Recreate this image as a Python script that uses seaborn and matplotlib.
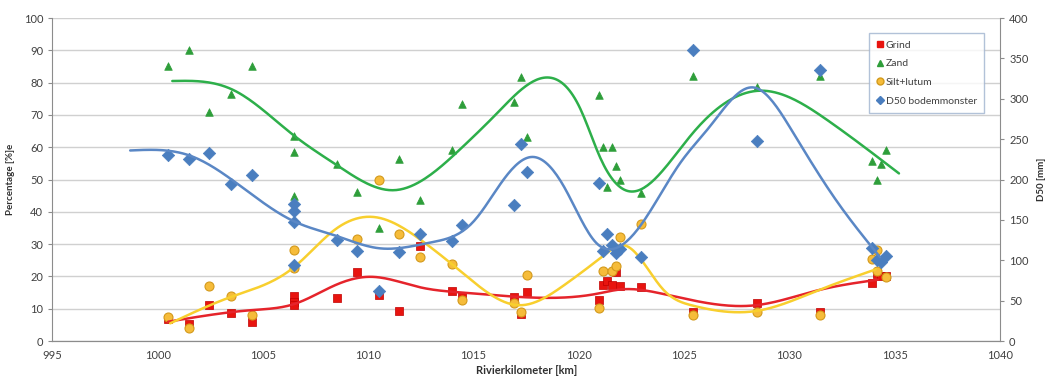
import numpy as np
import seaborn as sns
import matplotlib.pyplot as plt
from matplotlib.lines import Line2D

# measured samples (percentages on left axis, D50 on right axis)
grind_km = [1000.5, 1001.5, 1002.45, 1003.5, 1004.5, 1006.5, 1006.5, 1006.5, 1008.5, 1009.46, 1010.5,
            1011.47, 1012.47, 1013.97, 1014.47, 1016.94, 1017.24, 1017.56, 1020.95, 1021.13, 1021.32,
            1021.56, 1021.75, 1021.97, 1022.94, 1025.44, 1028.45, 1031.45, 1033.92, 1034.14, 1034.35, 1034.57]
grind = [6.7, 5.3, 11.1, 8.8, 6.0, 13.9, 12.2, 11.1, 13.2, 21.5, 14.2, 9.4, 29.4, 15.6, 14.0, 13.7, 8.4,
         15.3, 12.7, 17.3, 18.7, 17.3, 21.5, 17.0, 16.8, 9.1, 11.7, 9.1, 17.9, 20.7, 20.0, 20.0]

zand_km = [1000.5, 1001.5, 1002.45, 1003.5, 1004.5, 1006.5, 1006.5, 1006.5, 1008.5, 1009.46, 1010.5,
           1011.47, 1012.47, 1013.97, 1014.47, 1016.94, 1017.24, 1017.56, 1020.95, 1021.13, 1021.32,
           1021.56, 1021.75, 1021.97, 1022.94, 1025.44, 1028.45, 1031.45, 1033.92, 1034.14, 1034.35, 1034.57]
zand = [85, 90, 71, 76.5, 85, 63.5, 58.6, 45, 54.7, 46.2, 34.9, 56.3, 43.6, 59.3, 73.4, 74.1, 81.8, 63.3,
        76.2, 60.1, 47.8, 60.1, 54.3, 49.8, 45.7, 82, 78.5, 82, 55.8, 49.8, 54.8, 59.3]

silt_km = [1000.5, 1001.5, 1002.45, 1003.5, 1004.5, 1006.5, 1006.5, 1009.46, 1010.5, 1011.47, 1012.47,
           1013.97, 1014.47, 1016.94, 1017.24, 1017.56, 1020.95, 1021.13, 1021.56, 1021.75, 1021.97,
           1022.94, 1025.44, 1028.45, 1031.45, 1033.92, 1034.14, 1034.14, 1034.57]
silt = [7.5, 4.2, 17, 13.9, 8, 28.2, 22.5, 31.6, 49.8, 33.3, 26.1, 24, 12.7, 11.9, 9.1, 20.4, 10.1, 21.8,
        21.8, 23.3, 32.1, 36.2, 8.2, 9.1, 8, 25.5, 28.2, 21.8, 19.9]

d50_km = [1000.5, 1001.5, 1002.45, 1003.5, 1004.5, 1006.5, 1006.5, 1006.5, 1006.5, 1008.5, 1009.46,
          1010.5, 1011.47, 1012.47, 1013.97, 1014.47, 1016.94, 1017.24, 1017.56, 1020.95, 1021.13,
          1021.32, 1021.56, 1021.75, 1021.97, 1022.94, 1025.44, 1028.45, 1031.45, 1033.92, 1034.14,
          1034.35, 1034.57]
d50 = [231, 225, 233, 194, 206, 170, 161, 148, 94, 125, 112, 62, 110, 133, 124, 144, 168, 244, 209, 196,
       112, 133, 119, 109, 114, 104, 361, 248, 336, 115, 100, 98, 105]

# trend lines (knots)
grind_fit_km = [1000.5, 1004.5, 1006.5, 1008.5, 1010.1, 1012.5, 1014.5, 1017.7, 1020.9, 1022.0, 1024.0,
                1028.4, 1031.4, 1034.2]
grind_fit = [6.0, 9.6, 11.5, 17.5, 19.9, 16.6, 15.0, 13.5, 14.7, 16.0, 14.6, 11.1, 15.8, 19.0]

zand_fit_km = [1000.7, 1003.6, 1006.5, 1008.5, 1011.2, 1014.5, 1016.1, 1018.8, 1020.1, 1021.0, 1022.3,
               1024.0, 1025.4, 1028.6, 1031.8, 1035.2]
zand_fit = [80.5, 77.7, 63.5, 54.5, 46.7, 60.2, 70.4, 81.3, 71.5, 57, 46.5, 52.9, 64.3, 77.5, 68.4, 51.9]

silt_fit_km = [1000.6, 1003.5, 1006.5, 1008.4, 1010.4, 1012.5, 1014.5, 1017.2, 1019.3, 1021.3, 1022.1,
               1023.1, 1024.0, 1025.4, 1028.4, 1031.4, 1034.1]
silt_fit = [5.5, 13.7, 23, 34.4, 38.3, 31.3, 21, 11.1, 17.3, 27.1, 29.7, 24, 16, 11, 9.3, 15.8, 22.2]

d50_fit_km = [998.7, 1001.6, 1004.4, 1006.5, 1008.4, 1010.5, 1012.95, 1015.0, 1016.4, 1017.8, 1019.3,
              1020.85, 1021.6, 1022.9, 1024.8, 1026.2, 1028.3, 1030.2, 1032.2, 1034.3]
d50_fit = [236, 229, 183, 148, 131, 115, 122, 148, 199, 228, 191, 121, 114, 142, 220, 265, 314, 257,
           175, 104]


def smooth(xk, yk, n=400):
    # natural cubic spline through the knots
    x = np.asarray(xk, float)
    y = np.asarray(yk, float)
    h = np.diff(x)
    m = len(x)
    A = np.zeros((m, m))
    r = np.zeros(m)
    A[0, 0] = A[-1, -1] = 1
    for i in range(1, m - 1):
        A[i, i - 1] = h[i - 1]
        A[i, i] = 2 * (h[i - 1] + h[i])
        A[i, i + 1] = h[i]
        r[i] = 6 * ((y[i + 1] - y[i]) / h[i] - (y[i] - y[i - 1]) / h[i - 1])
    M = np.linalg.solve(A, r)
    xs = np.linspace(x[0], x[-1], n)
    k = np.clip(np.searchsorted(x, xs) - 1, 0, m - 2)
    a = x[k + 1] - xs
    b = xs - x[k]
    hk = h[k]
    ys = (M[k] * a ** 3 + M[k + 1] * b ** 3) / (6 * hk) + (y[k] / hk - M[k] * hk / 6) * a \
        + (y[k + 1] / hk - M[k + 1] * hk / 6) * b
    return xs, ys


sns.set_style('white')
plt.rcParams['font.family'] = ['Lato', 'DejaVu Sans']

c_red, c_green, c_orange, c_blue = '#E8140F', '#2E9E3A', '#F6BC3A', '#4A7EBF'
l_red, l_green, l_yellow, l_blue = '#E5242B', '#2DAF4A', '#F8CF2E', '#5A87C5'

fig, ax = plt.subplots(figsize=(10.45, 3.79), dpi=100)
fig.subplots_adjust(left=0.05, right=0.957, bottom=0.1, top=0.9525)
ax2 = ax.twinx()

sns.scatterplot(x=grind_km, y=grind, marker='s', color=c_red, s=36, edgecolor='#C00000', linewidth=0.5, ax=ax, zorder=3)
sns.scatterplot(x=zand_km, y=zand, marker='^', color=c_green, s=30, edgecolor=c_green, linewidth=0.5, ax=ax, zorder=3)
sns.scatterplot(x=silt_km, y=silt, marker='o', color=c_orange, s=42, edgecolor='#D39A1C', linewidth=0.8, ax=ax, zorder=3)

for xk, yk, col in [(grind_fit_km, grind_fit, l_red), (zand_fit_km, zand_fit, l_green),
                    (silt_fit_km, silt_fit, l_yellow)]:
    xs, ys = smooth(xk, yk)
    sns.lineplot(x=xs, y=ys, sort=False, estimator=None, color=col, linewidth=1.8, ax=ax, zorder=4)

sns.scatterplot(x=d50_km, y=d50, marker='D', color=c_blue, s=40, edgecolor=c_blue, linewidth=0.5, ax=ax2, zorder=3)
xs, ys = smooth(d50_fit_km, d50_fit)
sns.lineplot(x=xs, y=ys, sort=False, estimator=None, color=l_blue, linewidth=1.8, ax=ax2, zorder=4)

ax.set_xlim(995, 1040)
ax.set_ylim(0, 100)
ax2.set_ylim(0, 400)
ax.set_xticks(range(995, 1041, 5))
ax.set_yticks(range(0, 101, 10))
ax2.set_yticks(range(0, 401, 50))
ax.grid(axis='y', color='#D0D0D0', linewidth=1)
ax.set_axisbelow(True)

for a in (ax, ax2):
    a.spines['top'].set_visible(False)
    for s in ('left', 'right', 'bottom'):
        a.spines[s].set_color('#8C8C8C')
    a.tick_params(labelsize=8, colors='#8C8C8C', labelcolor='#404040', length=3, width=0.8)
ax2.spines['left'].set_visible(False)
ax.spines['right'].set_visible(False)

ax.set_xlabel('Rivierkilometer [km]', fontsize=8, fontweight='bold', color='#303030', labelpad=3)
ax.set_ylabel('Percentage [%]e', fontsize=7, fontweight='bold', color='#303030', labelpad=6)
ax2.set_ylabel('D50 [mm]', fontsize=7, fontweight='bold', color='#303030', labelpad=6)

handles = [
    Line2D([], [], marker='s', linestyle='', color=c_red, markersize=5),
    Line2D([], [], marker='^', linestyle='', color=c_green, markersize=5),
    Line2D([], [], marker='o', linestyle='', color=c_orange, markeredgecolor='#D39A1C', markersize=5),
    Line2D([], [], marker='D', linestyle='', color=c_blue, markersize=4),
]
labels = ['Grind', 'Zand', 'Silt+lutum', 'D50 bodemmonster']
leg = ax2.legend(handles, labels, loc='upper right', bbox_to_anchor=(0.989, 0.969), fontsize=7.5,
                 frameon=True, fancybox=False, edgecolor='#9FB3CF', handlelength=0.6,
                 handletextpad=0.3, labelspacing=0.9, borderpad=0.7)
leg.get_frame().set_linewidth(1)
for t in leg.get_texts():
    t.set_color('#404040')

fig.savefig('out.png', dpi=100)
